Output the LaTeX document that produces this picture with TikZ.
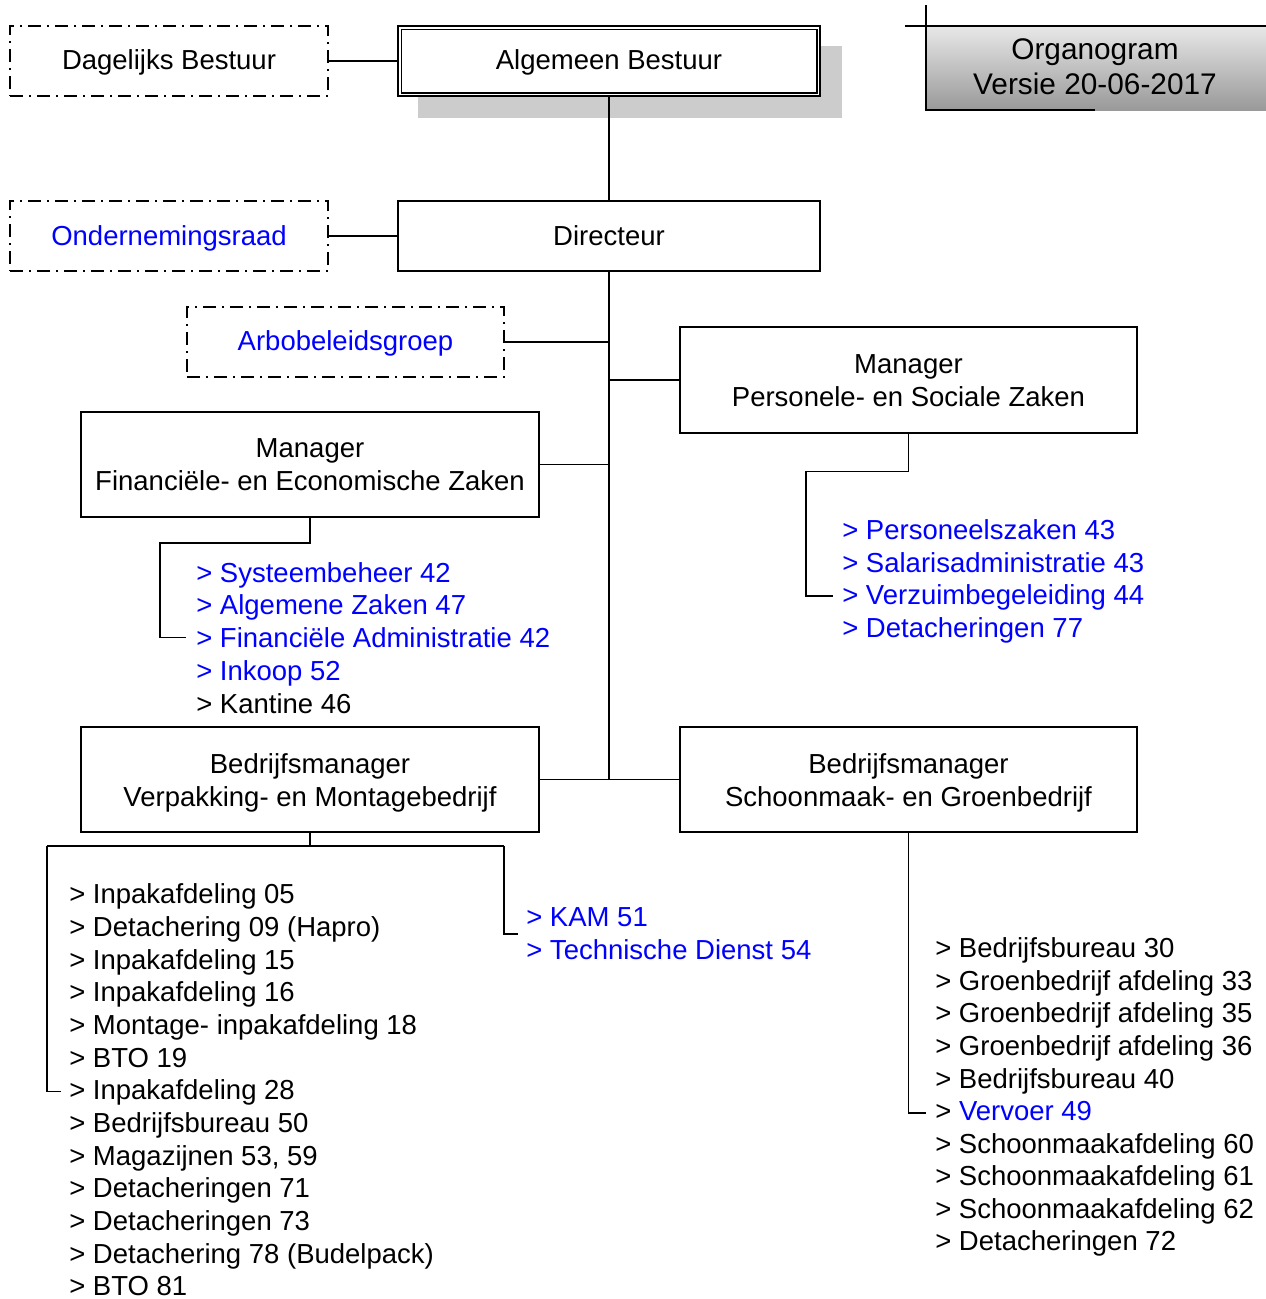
\documentclass[tikz,border=0pt]{standalone}
\usepackage{fontspec}
\setmainfont{Liberation Sans}
\newcommand\orgfont{\fontsize{27.5}{32.7}\selectfont}
\newcommand\titlefont{\fontsize{29.8}{35}\selectfont}
\begin{document}
\begin{tikzpicture}[x=1pt,y=-1pt,line width=1.6pt,
  boxs/.style={draw,fill=white,inner sep=0pt,line width=1.5pt},
  ddbox/.style={draw,inner sep=0pt,line width=1.5pt,dash pattern=on 13pt off 6pt on 2pt off 6pt},
  txt/.style={font=\orgfont,inner sep=0pt,anchor=base},
  item/.style={font=\orgfont,inner sep=0pt,anchor=base west},
  conn/.style={line width=1.7pt}]
\useasboundingbox (0,0) rectangle (1266,1299);

% Organogram title box
\node[inner sep=0pt,minimum width=340pt,minimum height=84pt,top color=black!9,bottom color=black!40] (org) at (1096,68) {};
\draw[conn] (905,26) -- (1266,26);
\draw[conn] (926,5) -- (926,110) -- (1095,110);
\node[txt,font=\titlefont] (orgt1) at (1095,59.5) {Organogram};
\node[txt,font=\titlefont] (orgt2) at (1095,94.5) {Versie 20-06-2017};

% shadow of Algemeen Bestuur
\fill[black!20] (418,46) rectangle (842,118);

% boxes
\node[boxs,minimum width=422pt,minimum height=70pt] (ab) at (609,61) {};
\draw[line width=1.5pt] ([shift={(4pt,-4pt)}]ab.north west) rectangle ([shift={(-4pt,4pt)}]ab.south east);
\node[txt] (abt) at (609,69.5) {Algemeen Bestuur};

\node[ddbox,minimum width=318pt,minimum height=70pt] (db) at (169,61) {};
\node[txt] (dbt) at (169,69) {Dagelijks Bestuur};

\node[boxs,minimum width=422pt,minimum height=70pt] (dir) at (609,236) {};
\node[txt] (dirt) at (609,245) {Directeur};

\node[ddbox,minimum width=318pt,minimum height=70pt] (or) at (169,236) {};
\node[txt,text=blue] (ort) at (169,245) {Ondernemingsraad};

\node[ddbox,minimum width=317pt,minimum height=70pt] (arbo) at (345.5,342) {};
\node[txt,text=blue] (arbot) at (345.5,350) {Arbobeleidsgroep};

\node[boxs,minimum width=457pt,minimum height=106pt] (mpsz) at (908.5,380) {};
\node[txt] (mpszt1) at (908.5,373) {Manager};
\node[txt] (mpszt2) at (908.5,406) {Personele- en Sociale Zaken};

\node[boxs,minimum width=458pt,minimum height=105pt] (mfez) at (310,464.5) {};
\node[txt] (mfezt1) at (310,457) {Manager};
\node[txt] (mfezt2) at (310,490) {Financiële- en Economische Zaken};

\node[boxs,minimum width=458pt,minimum height=105pt] (bvm) at (310,779.5) {};
\node[txt] (bvmt1) at (310,773) {Bedrijfsmanager};
\node[txt] (bvmt2) at (310,806) {Verpakking- en Montagebedrijf};

\node[boxs,minimum width=457pt,minimum height=105pt] (bsg) at (908.5,779.5) {};
\node[txt] (bsgt1) at (908.5,773) {Bedrijfsmanager};
\node[txt] (bsgt2) at (908.5,806) {Schoonmaak- en Groenbedrijf};

% main connectors
\coordinate (spine) at (609,779.5);
\draw[conn] (db.east) -- (ab.west);
\draw[conn] (ab.south) -- (dir.north);
\draw[conn] (or.east) -- (dir.west);
\draw[conn] (dir.south) -- (spine);
\draw[conn] (arbo.east) -- (arbo.east -| spine);
\draw[conn] (mpsz.west) -- (mpsz.west -| spine);
\draw[conn] (mfez.east) -- (mfez.east -| spine);
\draw[conn] (bvm.east) -- (bsg.west);

% sub-list connectors
\coordinate (fezend) at (186,637.5);
\coordinate (pszend) at (833,595.7);
\coordinate (vmleft) at (61,1091.5);
\coordinate (vmright) at (518,934.3);
\coordinate (sgend) at (926,1113);
\draw[conn] (mfez.south) |- (160,543) |- (fezend);
\draw[conn] (mpsz.south) |- (806,471.5) |- (pszend);
\draw[conn] (bvm.south) -- (310,846);
\draw[conn] (47,846) -- (504,846);
\draw[conn] (47,846) |- (vmleft);
\draw[conn] (504,846) |- (vmright);
\draw[conn] (bsg.south) |- (sgend);

% lists
\foreach \t [count=\i from 0] in {Systeembeheer 42,Algemene Zaken 47,Financiële Administratie 42,Inkoop 52}
  \node[item,text=blue] (fez\i) at (195.5,582+\i*32.9) {> \t};
\node[item] (fez4) at (195.5,713.6) {> Kantine 46};

\foreach \t [count=\i from 0] in {Personeelszaken 43,Salarisadministratie 43,Verzuimbegeleiding 44,Detacheringen 77}
  \node[item,text=blue] (psz\i) at (841.5,539.5+\i*32.7) {> \t};

\foreach \t [count=\i from 0] in {Inpakafdeling 05,Detachering 09 (Hapro),Inpakafdeling 15,Inpakafdeling 16,Montage- inpakafdeling 18,BTO 19,Inpakafdeling 28,Bedrijfsbureau 50,{Magazijnen 53, 59},Detacheringen 71,Detacheringen 73,Detachering 78 (Budelpack),BTO 81}
  \node[item] (vm\i) at (68.5,903.8+\i*32.67) {> \t};

\node[item,text=blue] (kam0) at (525.5,926.5) {> KAM 51};
\node[item,text=blue] (kam1) at (525.5,959.5) {> Technische Dienst 54};

\foreach \t [count=\i from 0] in {Bedrijfsbureau 30,Groenbedrijf afdeling 33,Groenbedrijf afdeling 35,Groenbedrijf afdeling 36,Bedrijfsbureau 40,{\textcolor{blue}{Vervoer 49}},Schoonmaakafdeling 60,Schoonmaakafdeling 61,Schoonmaakafdeling 62,Detacheringen 72}
  \node[item] (sg\i) at (934.5,957.8+\i*32.55) {> \t};
\end{tikzpicture}
\end{document}
